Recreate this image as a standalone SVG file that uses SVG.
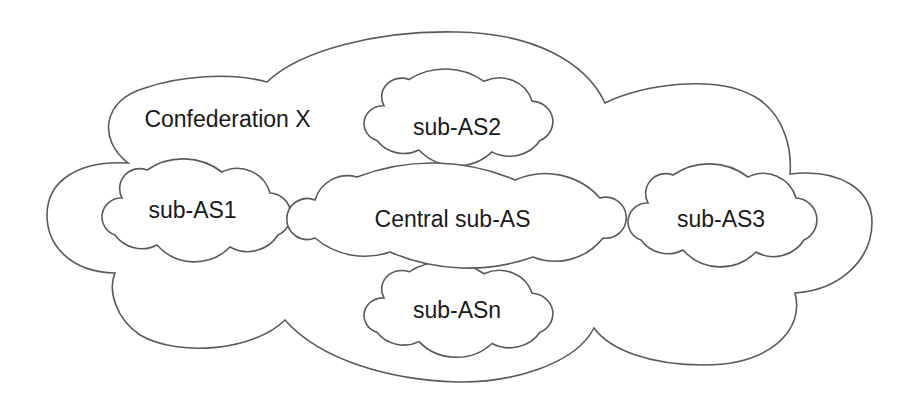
<svg xmlns="http://www.w3.org/2000/svg" xmlns:xlink="http://www.w3.org/1999/xlink" width="914" height="410" viewBox="0 0 914 410">
<style>
.cl{fill:#fff;stroke:#5a5a5a;stroke-width:1.6;stroke-linejoin:miter}
.sm{vector-effect:non-scaling-stroke}
.t{font-family:"Liberation Sans",Arial,sans-serif;font-size:23px;fill:#1a1a1a;text-anchor:middle}
</style>
<defs>
<path id="small" class="cl sm" d="M -74,-13 A 20 20 0 0 1 -49,-41 A 64 64 0 0 1 26,-39 A 34 34 0 0 1 74,-18 A 22 22 0 0 1 82,24 A 36 36 0 0 1 34,36 A 50 50 0 0 1 -39,34 A 33 33 0 0 1 -81,24 A 19 19 0 0 1 -74,-13 Z"/>
</defs>
<rect width="914" height="410" fill="#fff"/>
<g id="confederation-x">
<path class="cl" d="M128,163 C98,140 102,100 145,88 C180,76 230,72 267,82 C300,50 380,30 457,32 C530,33 585,60 605,103 C640,85 720,72 760,100 C785,118 792,150 790,174 C840,168 872,190 872,222 C872,260 840,290 795,293 C805,330 770,365 704,365 C650,365 610,350 594,328 C575,365 510,383 457,382 C390,380 320,360 285,320 C255,350 180,358 140,335 C115,318 108,290 115,273 C70,272 47,245 47,215 C47,180 80,160 128,163 Z"/>
<text class="t" x="227.5" y="127">Confederation X</text>
</g>
<g id="connectors"></g>
<g id="sub-AS1">
<use xlink:href="#small" href="#small" transform="translate(196,211)"/>
<text class="t" x="192.5" y="218">sub-AS1</text>
</g>
<g id="sub-AS2">
<use xlink:href="#small" href="#small" transform="translate(458,118) scale(1,0.94)"/>
<text class="t" x="457" y="135">sub-AS2</text>
</g>
<g id="sub-AS3">
<use xlink:href="#small" href="#small" transform="translate(722,216)"/>
<text class="t" x="721" y="227">sub-AS3</text>
</g>
<g id="sub-ASn">
<use xlink:href="#small" href="#small" transform="translate(458,310) scale(1,0.93)"/>
<text class="t" x="457" y="318">sub-ASn</text>
</g>
<g id="central-sub-AS">
<path class="cl" d="M315,200 A 34 34 0 0 1 357,177 A 209 209 0 0 1 515,180 A 73.5 73.5 0 0 1 600,198 A 20.5 20.5 0 1 1 603,238 A 60.7 60.7 0 0 1 533,257 A 196 196 0 0 1 390,252 A 77 77 0 0 1 315,238 A 20.5 20.5 0 1 1 315,200 Z"/>
<text class="t" x="452.5" y="227">Central sub-AS</text>
</g>
</svg>
